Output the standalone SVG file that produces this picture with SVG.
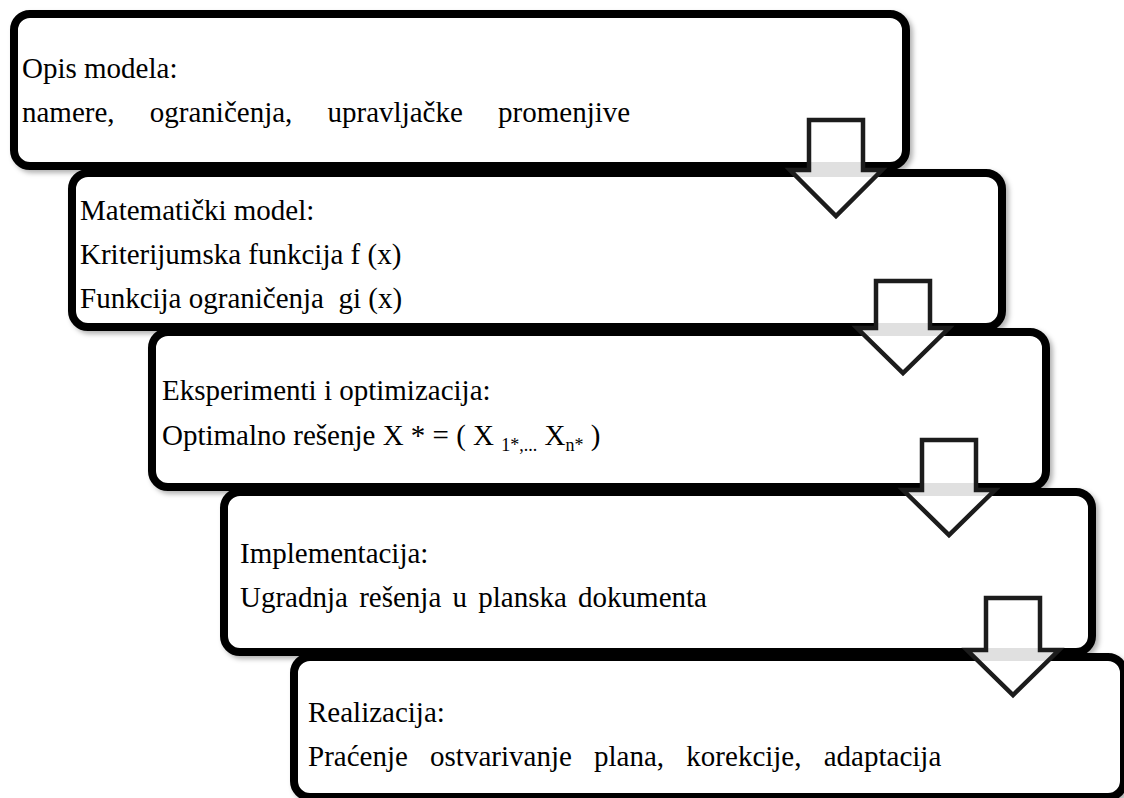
<svg xmlns="http://www.w3.org/2000/svg" width="1124" height="798" viewBox="0 0 1124 798">
  <defs>
    <filter id="soft-shadow" x="-5%" y="-10%" width="112%" height="125%">
      <feDropShadow dx="3" dy="3" stdDeviation="2.5" flood-color="#000" flood-opacity="0.3"/>
    </filter>
    <style>
      .box { fill: #fff; stroke: #000; stroke-width: 8; }
      .arrow { fill: #fff; fill-opacity: 0.88; stroke: #1c1c1c; stroke-width: 4.5; stroke-linejoin: miter; }
      text { font-family: "Liberation Serif", "Times New Roman", serif; font-size: 29px; fill: #000; white-space: pre; }
      .sub { font-size: 18px; }
      .stretch-l { word-spacing: 28px; }
      .stretch-m { word-spacing: 15px; }
      .stretch-s { word-spacing: 4px; }
    </style>
  </defs>

  <rect width="1124" height="798" fill="#fff"/>

  <!-- Step 1 -->
  <g id="step-opis">
    <rect class="box" x="14" y="14" width="892" height="152" rx="16" filter="url(#soft-shadow)"/>
    <text x="22" y="78">Opis modela:</text>
    <text class="stretch-l" x="22" y="122">namere, ograničenja, upravljačke promenjive</text>
  </g>

  <!-- Step 2 -->
  <g id="step-matematicki">
    <rect class="box" x="72" y="173" width="930" height="154" rx="16" filter="url(#soft-shadow)"/>
    <text x="80" y="220">Matematički model:</text>
    <text x="80" y="264">Kriterijumska funkcija f (x)</text>
    <text x="80" y="308">Funkcija ograničenja  gi (x)</text>
  </g>

  <!-- Step 3 -->
  <g id="step-eksperimenti">
    <rect class="box" x="152" y="332" width="894" height="155" rx="16" filter="url(#soft-shadow)"/>
    <text x="162" y="400">Eksperimenti i optimizacija:</text>
    <text x="162" y="445">Optimalno rešenje X * = ( X <tspan class="sub" dy="6">1*,...</tspan><tspan dy="-6"> X</tspan><tspan class="sub" dy="6">n*</tspan><tspan dy="-6"> )</tspan></text>
  </g>

  <!-- Step 4 -->
  <g id="step-implementacija">
    <rect class="box" x="224" y="492" width="868" height="160" rx="16" filter="url(#soft-shadow)"/>
    <text x="240" y="563">Implementacija:</text>
    <text class="stretch-s" x="240" y="607">Ugradnja rešenja u planska dokumenta</text>
  </g>

  <!-- Step 5 -->
  <g id="step-realizacija">
    <rect class="box" x="294" y="657" width="830" height="140" rx="16" filter="url(#soft-shadow)"/>
    <text x="308" y="722">Realizacija:</text>
    <text class="stretch-m" x="308" y="766">Praćenje ostvarivanje plana, korekcije, adaptacija</text>
  </g>

  <!-- Down arrows between steps -->
  <g id="connectors">
    <polygon class="arrow" points="809,120 863,120 863,170 882,170 836,216 790,170 809,170"/>
    <polygon class="arrow" points="876,281 930,281 930,328 949,328 903,373 857,328 876,328"/>
    <polygon class="arrow" points="922,440 976,440 976,490 995,490 949,535 903,490 922,490"/>
    <polygon class="arrow" points="986,598 1040,598 1040,650 1059,650 1013,695 967,650 986,650"/>
  </g>
</svg>
